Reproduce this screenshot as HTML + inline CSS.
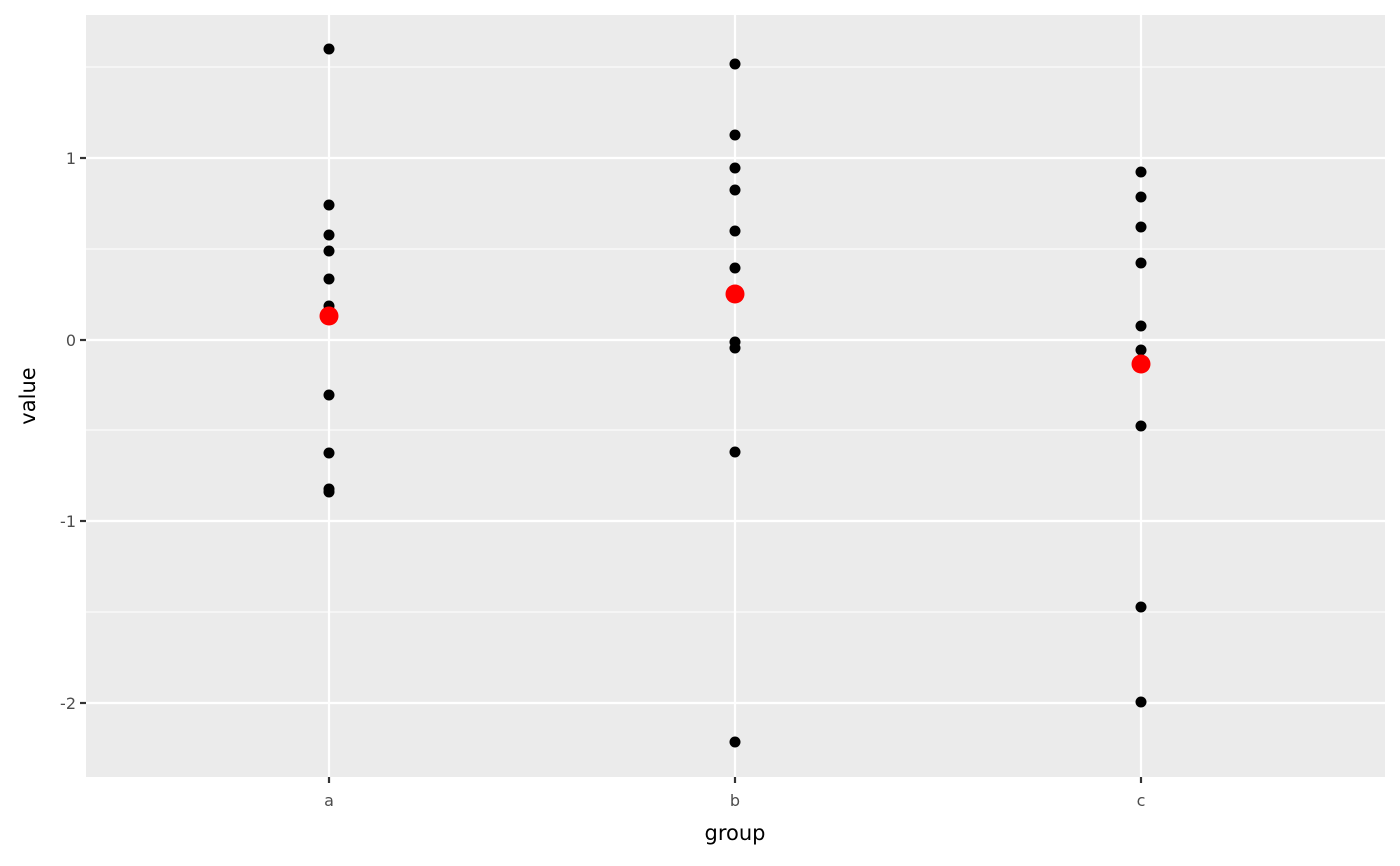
<!DOCTYPE html>
<html><head><style>body{margin:0;background:#fff}svg{display:block}</style></head><body>
<svg width="1400" height="866" xmlns="http://www.w3.org/2000/svg" font-family="DejaVu Sans, Liberation Sans, sans-serif">
<rect x="86" y="15" width="1299" height="762" fill="#ebebeb"/>
<g stroke="#fff" stroke-width="1.1">
<line x1="86" x2="1385" y1="67" y2="67"/><line x1="86" x2="1385" y1="249" y2="249"/>
<line x1="86" x2="1385" y1="430" y2="430"/><line x1="86" x2="1385" y1="612" y2="612"/>
</g>
<g stroke="#fff" stroke-width="2.2">
<line x1="86" x2="1385" y1="158" y2="158"/><line x1="86" x2="1385" y1="340" y2="340"/>
<line x1="86" x2="1385" y1="521" y2="521"/><line x1="86" x2="1385" y1="703" y2="703"/>
<line x1="329" x2="329" y1="15" y2="777"/><line x1="735" x2="735" y1="15" y2="777"/><line x1="1141" x2="1141" y1="15" y2="777"/>
</g>
<g stroke="#333" stroke-width="2.2">
<line x1="80" x2="86" y1="158" y2="158"/><line x1="80" x2="86" y1="340" y2="340"/>
<line x1="80" x2="86" y1="521" y2="521"/><line x1="80" x2="86" y1="703" y2="703"/>
<line x1="329" x2="329" y1="777" y2="783"/><line x1="735" x2="735" y1="777" y2="783"/><line x1="1141" x2="1141" y1="777" y2="783"/>
</g>
<g fill="#4d4d4d" font-size="16" text-anchor="end">
<text x="76" y="164">1</text><text x="76" y="346">0</text><text x="76" y="527">-1</text><text x="76" y="709">-2</text>
</g>
<g fill="#4d4d4d" font-size="16" text-anchor="middle">
<text x="329" y="806">a</text><text x="735" y="806">b</text><text x="1141" y="806">c</text>
</g>
<text x="735" y="840" font-size="21" text-anchor="middle">group</text>
<text transform="translate(35,396) rotate(-90)" font-size="21" text-anchor="middle">value</text>
<g fill="#000">
<circle cx="329" cy="49" r="5.5"/><circle cx="329" cy="205" r="5.5"/><circle cx="329" cy="235" r="5.5"/><circle cx="329" cy="251" r="5.5"/><circle cx="329" cy="279" r="5.5"/><circle cx="329" cy="306" r="5.5"/><circle cx="329" cy="395" r="5.5"/><circle cx="329" cy="453" r="5.5"/><circle cx="329" cy="489" r="5.5"/><circle cx="329" cy="492" r="5.5"/>
<circle cx="735" cy="64" r="5.5"/><circle cx="735" cy="135" r="5.5"/><circle cx="735" cy="168" r="5.5"/><circle cx="735" cy="190" r="5.5"/><circle cx="735" cy="231" r="5.5"/><circle cx="735" cy="268" r="5.5"/><circle cx="735" cy="342" r="5.5"/><circle cx="735" cy="348" r="5.5"/><circle cx="735" cy="452" r="5.5"/><circle cx="735" cy="742" r="5.5"/>
<circle cx="1141" cy="172" r="5.5"/><circle cx="1141" cy="197" r="5.5"/><circle cx="1141" cy="227" r="5.5"/><circle cx="1141" cy="263" r="5.5"/><circle cx="1141" cy="326" r="5.5"/><circle cx="1141" cy="350" r="5.5"/><circle cx="1141" cy="426" r="5.5"/><circle cx="1141" cy="607" r="5.5"/><circle cx="1141" cy="702" r="5.5"/>
</g>
<g fill="#ff0000">
<circle cx="329" cy="316" r="9.5"/><circle cx="735" cy="294" r="9.5"/><circle cx="1141" cy="364" r="9.5"/>
</g>
</svg>
</body></html>
